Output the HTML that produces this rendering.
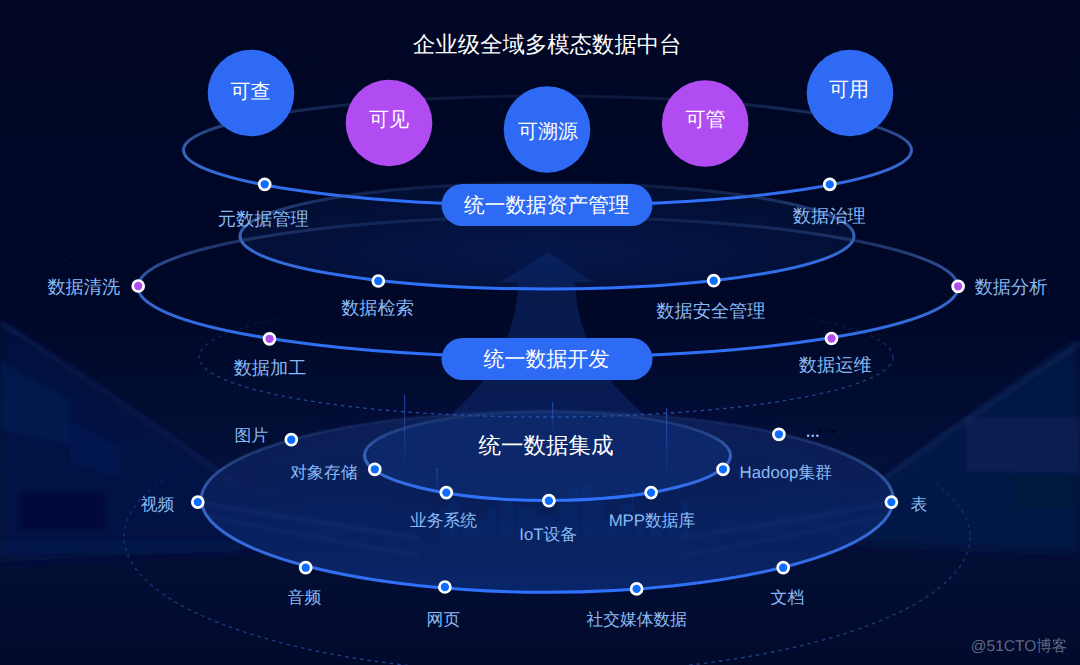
<!DOCTYPE html>
<html><head><meta charset="utf-8">
<style>
html,body{margin:0;padding:0;width:1080px;height:665px;overflow:hidden;background:#000624;}
svg{display:block;font-family:"Liberation Sans",sans-serif;text-rendering:geometricPrecision;}
.lb{fill:#89baf5;font-size:18.2px;}
.wt{fill:#ffffff;}
</style></head><body>
<svg width="1080" height="665" viewBox="0 0 1080 665">
<defs>
  <linearGradient id="bgv" x1="0" y1="0" x2="0" y2="1">
    <stop offset="0" stop-color="#000624"/>
    <stop offset="0.45" stop-color="#000727"/>
    <stop offset="0.7" stop-color="#031038"/>
    <stop offset="0.85" stop-color="#030e34"/>
    <stop offset="1" stop-color="#020a2c"/>
  </linearGradient>
  <linearGradient id="s1" gradientUnits="userSpaceOnUse" x1="0" y1="96" x2="0" y2="204">
    <stop offset="0" stop-color="#35548a" stop-opacity="0.22"/>
    <stop offset="0.5" stop-color="#3b68c4" stop-opacity="0.95"/>
    <stop offset="1" stop-color="#2f72ff"/>
  </linearGradient>
  <linearGradient id="s2" gradientUnits="userSpaceOnUse" x1="0" y1="183" x2="0" y2="289">
    <stop offset="0" stop-color="#35548a" stop-opacity="0.22"/>
    <stop offset="0.5" stop-color="#3b68c4" stop-opacity="0.95"/>
    <stop offset="1" stop-color="#2f72ff"/>
  </linearGradient>
  <linearGradient id="s3" gradientUnits="userSpaceOnUse" x1="0" y1="214" x2="0" y2="358">
    <stop offset="0" stop-color="#35548a" stop-opacity="0.22"/>
    <stop offset="0.5" stop-color="#3b68c4" stop-opacity="0.95"/>
    <stop offset="1" stop-color="#2f72ff"/>
  </linearGradient>
  <linearGradient id="s4" gradientUnits="userSpaceOnUse" x1="0" y1="411" x2="0" y2="593">
    <stop offset="0" stop-color="#35548a" stop-opacity="0.08"/>
    <stop offset="0.5" stop-color="#3b68c4" stop-opacity="0.95"/>
    <stop offset="1" stop-color="#2f72ff"/>
  </linearGradient>
  <linearGradient id="s5" gradientUnits="userSpaceOnUse" x1="0" y1="413" x2="0" y2="500">
    <stop offset="0" stop-color="#35548a" stop-opacity="0.22"/>
    <stop offset="0.5" stop-color="#3b68c4" stop-opacity="0.95"/>
    <stop offset="1" stop-color="#2f72ff"/>
  </linearGradient>
  <radialGradient id="g2" cx="0.5" cy="0.65" r="0.55">
    <stop offset="0" stop-color="#072060" stop-opacity="0.62"/>
    <stop offset="1" stop-color="#041540" stop-opacity="0.55"/>
  </radialGradient>
  <radialGradient id="g4" cx="0.5" cy="0.5" r="0.5">
    <stop offset="0" stop-color="#0d2f78" stop-opacity="0.6"/>
    <stop offset="1" stop-color="#0a2260" stop-opacity="0.3"/>
  </radialGradient>
  <linearGradient id="d3" gradientUnits="userSpaceOnUse" x1="0" y1="297" x2="0" y2="415">
    <stop offset="0.1" stop-color="#2a4f9a" stop-opacity="0"/>
    <stop offset="0.45" stop-color="#2a4f9a" stop-opacity="0.55"/>
    <stop offset="1" stop-color="#2a5cc0" stop-opacity="0.8"/>
  </linearGradient>
  <linearGradient id="d6" gradientUnits="userSpaceOnUse" x1="0" y1="401" x2="0" y2="673">
    <stop offset="0.22" stop-color="#2a4f9a" stop-opacity="0"/>
    <stop offset="0.36" stop-color="#2a4f9a" stop-opacity="0.4"/>
    <stop offset="1" stop-color="#2a5cc0" stop-opacity="0.7"/>
  </linearGradient>
  <filter id="blur8" x="-20%" y="-20%" width="140%" height="140%"><feGaussianBlur stdDeviation="8"/></filter>
  <filter id="blur20" x="-20%" y="-50%" width="140%" height="200%"><feGaussianBlur stdDeviation="20"/></filter>
  <filter id="blur2" x="-20%" y="-20%" width="140%" height="140%"><feGaussianBlur stdDeviation="2"/></filter>
  <filter id="blur6" x="-20%" y="-20%" width="140%" height="140%"><feGaussianBlur stdDeviation="6"/></filter>
  <linearGradient id="g4v" x1="0" y1="0" x2="0" y2="1">
    <stop offset="0" stop-color="#13286a" stop-opacity="0.6"/>
    <stop offset="0.5" stop-color="#0c2466" stop-opacity="0.65"/>
    <stop offset="1" stop-color="#0a2a74" stop-opacity="0.85"/>
  </linearGradient>
  <linearGradient id="beam" x1="0" y1="0" x2="0" y2="1">
    <stop offset="0" stop-color="#2f6ae8" stop-opacity="0.6"/>
    <stop offset="1" stop-color="#3a7cff" stop-opacity="0"/>
  </linearGradient>
  <filter id="blur1" x="-10%" y="-10%" width="120%" height="120%"><feGaussianBlur stdDeviation="0.8"/></filter>
</defs>

<rect x="0" y="0" width="1080" height="665" fill="url(#bgv)"/>

<!-- background structures -->
<g filter="url(#blur6)">
  <path d="M0,305 L0,318 Q90,385 240,488 L430,500 L430,522 L240,550 L0,562 Z" fill="#0a1a4e" fill-opacity="0.55"/>
  <path d="M1080,338 Q990,400 880,482 L680,502 L680,522 L880,545 L1080,552 Z" fill="#0a1c52" fill-opacity="0.62"/>
</g>
<g filter="url(#blur2)">
  <polygon points="0,360 70,400 70,445 0,430" fill="#102868" fill-opacity="0.3"/>
  <polygon points="70,420 120,448 120,478 70,462" fill="#102868" fill-opacity="0.25"/>
  <rect x="20" y="493" width="85" height="37" fill="#040c34" fill-opacity="0.5"/>
  <rect x="0" y="540" width="240" height="14" fill="#10245a" fill-opacity="0.25"/>
  <rect x="966" y="417" width="114" height="55" fill="#12306e" fill-opacity="0.32"/>
  <rect x="1012" y="474" width="68" height="34" fill="#050f38" fill-opacity="0.45"/>
</g>
<g filter="url(#blur2)" fill="none">
  <path d="M0,322 Q100,385 240,487" stroke="#34569e" stroke-opacity="0.35" stroke-width="2.5"/>
  <path d="M1080,343 Q990,402 880,482" stroke="#34569e" stroke-opacity="0.4" stroke-width="2.5"/>
</g>
<g fill="none" stroke="#3a5a9a" stroke-width="1" stroke-opacity="0.12">
  <path d="M270,0 L395,160"/>
  <path d="M985,0 L880,110"/>
  <path d="M0,225 L120,290"/>
</g>
<g filter="url(#blur20)">
  <ellipse cx="547" cy="490" rx="300" ry="80" fill="#0a2266" fill-opacity="0.2"/>
</g>
<!-- glow fills -->
<ellipse cx="547" cy="236" rx="307" ry="53" fill="url(#g2)"/>
<!-- arrow -->
<path d="M549,252 L593,282 L575,282 Q578,360 645,415 L450,415 Q516,360 518,282 L500,282 Z" fill="#0c2a6c" fill-opacity="0.55"/>
<path d="M201.29999999999995,499.3 A346,88.5 0 0 1 893.3,499.3 A346,93 0 0 1 201.29999999999995,499.3 Z" fill="url(#g4v)"/>
<path d="M364.5,455.5 A183,44 0 0 1 730.5,455.5 A183,45 0 0 1 364.5,455.5 Z" fill="#0d2e78" fill-opacity="0.6"/>

<!-- dashed ellipses -->
<ellipse cx="546" cy="357" rx="347" ry="60" fill="none" stroke="url(#d3)" stroke-width="1.3" stroke-dasharray="3.5 4"/>
<ellipse cx="547" cy="537" rx="423" ry="136" fill="none" stroke="url(#d6)" stroke-width="1.3" stroke-dasharray="3.5 4"/>

<!-- skyline -->
<g fill="#123a8a" fill-opacity="0.22" filter="url(#blur1)"><rect x="440" y="510" width="8" height="28"/><rect x="449" y="499" width="10" height="39"/><rect x="462" y="526" width="14" height="12"/><rect x="476" y="520" width="12" height="18"/><rect x="489" y="506" width="8" height="32"/><rect x="500" y="502" width="14" height="36"/><rect x="517" y="508" width="12" height="30"/><rect x="530" y="508" width="8" height="30"/><rect x="539" y="516" width="14" height="22"/><rect x="553" y="523" width="6" height="15"/><rect x="559" y="504" width="10" height="34"/><rect x="569" y="486" width="10" height="52"/><rect x="582" y="484" width="12" height="54"/><rect x="595" y="497" width="10" height="41"/><rect x="606" y="522" width="12" height="16"/><rect x="620" y="504" width="12" height="34"/><rect x="634" y="512" width="12" height="26"/><rect x="649" y="517" width="14" height="21"/><rect x="666" y="521" width="14" height="17"/><rect x="682" y="501" width="6" height="37"/></g>
<!-- road streaks -->
<g filter="url(#blur2)" fill="none">
  <path d="M202,503 Q300,520 420,538" stroke="#3a64b8" stroke-opacity="0.28" stroke-width="2"/>
  <path d="M205,515 Q320,540 420,555" stroke="#3a64b8" stroke-opacity="0.2" stroke-width="2"/>
  <path d="M888,503 Q800,520 680,538" stroke="#3a64b8" stroke-opacity="0.25" stroke-width="2"/>
  <path d="M885,515 Q780,540 680,555" stroke="#3a64b8" stroke-opacity="0.18" stroke-width="2"/>
</g>
<!-- beams -->
<g>
  <rect x="404" y="395" width="1.2" height="72" fill="url(#beam)"/>
  <rect x="552" y="402" width="1.2" height="30" fill="url(#beam)"/>
  <rect x="666" y="408" width="1.2" height="68" fill="url(#beam)"/>
  <rect x="436.5" y="468" width="1.2" height="20" fill="url(#beam)"/>
  <rect x="632" y="490" width="1" height="22" fill="url(#beam)" opacity="0.5"/>
</g>
<!-- ellipses -->
<path d="M183.5,150 A364,54 0 0 1 911.5,150 A364,55.5 0 0 1 183.5,150 Z" fill="none" stroke="url(#s1)" stroke-width="3"/>
<ellipse cx="547" cy="236" rx="307" ry="53" fill="none" stroke="url(#s2)" stroke-width="3"/>
<ellipse cx="548" cy="287" rx="410" ry="70" fill="none" stroke="url(#s3)" stroke-width="3"/>
<path d="M201.29999999999995,499.3 A346,88.5 0 0 1 893.3,499.3 A346,93 0 0 1 201.29999999999995,499.3 Z" fill="none" stroke="url(#s4)" stroke-width="3"/>
<path d="M364.5,455.5 A183,44 0 0 1 730.5,455.5 A183,45 0 0 1 364.5,455.5 Z" fill="none" stroke="url(#s5)" stroke-width="3"/>

<!-- top circles -->
<circle cx="251" cy="93" r="43.3" fill="#2e6af4"/>
<circle cx="389" cy="123" r="43.3" fill="#b04cf2"/>
<circle cx="547" cy="129.5" r="43.3" fill="#2e6af4"/>
<circle cx="705.2" cy="123.5" r="43.3" fill="#b04cf2"/>
<circle cx="850" cy="93" r="43.3" fill="#2e6af4"/>
<g class="wt" font-size="20" text-anchor="middle" dominant-baseline="central">
  <text x="250.5" y="91.7">可查</text>
  <text x="389" y="120.2">可见</text>
  <text x="548" y="131.8">可溯源</text>
  <text x="705.5" y="120.4">可管</text>
  <text x="849" y="90.2">可用</text>
</g>

<text x="547.3" y="44.6" class="wt" font-size="22.4" text-anchor="middle" dominant-baseline="central">企业级全域多模态数据中台</text>

<!-- pills -->
<rect x="441.5" y="184" width="211" height="42" rx="21" fill="#2e6bf4"/>
<rect x="441.5" y="338" width="211" height="42" rx="21" fill="#2e6bf4"/>
<g class="wt" font-size="20.5" text-anchor="middle" dominant-baseline="central">
  <text x="546.8" y="205" font-size="20.7">统一数据资产管理</text>
  <text x="546.5" y="359.2" font-size="21">统一数据开发</text>
</g>
<text x="546" y="445.9" class="wt" font-size="22.5" text-anchor="middle" dominant-baseline="central">统一数据集成</text>

<!-- dots -->
<g stroke="#ffffff" stroke-width="2.7">
  <g fill="#0b6cff">
    <circle cx="264.7" cy="184.3" r="5.5"/>
    <circle cx="829.8" cy="184.4" r="5.5"/>
    <circle cx="378.3" cy="281" r="5.5"/>
    <circle cx="713.7" cy="280.7" r="5.5"/>
    <circle cx="197.8" cy="502.1" r="5.5"/>
    <circle cx="291.3" cy="439.7" r="5.5"/>
    <circle cx="305.7" cy="567.7" r="5.5"/>
    <circle cx="444.9" cy="587" r="5.5"/>
    <circle cx="636.6" cy="588.9" r="5.5"/>
    <circle cx="783.2" cy="567.7" r="5.5"/>
    <circle cx="891.4" cy="502.1" r="5.5"/>
    <circle cx="778.9" cy="434.3" r="5.5"/>
    <circle cx="374.8" cy="469.3" r="5.5"/>
    <circle cx="446.3" cy="492.6" r="5.5"/>
    <circle cx="548.9" cy="500.7" r="5.5"/>
    <circle cx="651.1" cy="492.6" r="5.5"/>
    <circle cx="723" cy="469.3" r="5.5"/>
  </g>
  <g fill="#b04cf2">
    <circle cx="138.2" cy="286" r="5.5"/>
    <circle cx="958.1" cy="286.3" r="5.5"/>
    <circle cx="269.5" cy="338.8" r="5.5"/>
    <circle cx="831.5" cy="338.5" r="5.5"/>
  </g>
</g>

<g fill="#8fc0ff"><circle cx="808.1" cy="435.8" r="1.3"/><circle cx="812.8" cy="435.8" r="1.3"/><circle cx="817.4" cy="435.8" r="1.3"/></g>
<g fill="#000000"><circle cx="820.2" cy="431.7" r="1.3"/><circle cx="826.9" cy="431.7" r="1.3"/><circle cx="833.3" cy="431.7" r="1.3"/></g>
<!-- labels -->
<g class="lb" text-anchor="middle" dominant-baseline="central">
  <text x="263.3" y="218.5">元数据管理</text>
  <text x="829.2" y="216">数据治理</text>
  <text x="83.8" y="287.4">数据清洗</text>
  <text x="377.5" y="308.3">数据检索</text>
  <text x="710.9" y="310.6">数据安全管理</text>
  <text x="1011" y="287.4">数据分析</text>
  <text x="270" y="367.6">数据加工</text>
  <text x="835.2" y="365.2">数据运维</text>
</g>
<g class="lb" font-size="16.8" text-anchor="middle" dominant-baseline="central" style="font-size:16.8px">
  <text x="251.4" y="435.4">图片</text>
  <text x="323.9" y="472">对象存储</text>
  <text x="157.6" y="504.6">视频</text>
  <text x="304.4" y="597.3">音频</text>
  <text x="443.4" y="619">网页</text>
  <text x="636.8" y="619">社交媒体数据</text>
  <text x="787.4" y="597.7">文档</text>
  <text x="919" y="504.6">表</text>
  <text x="785.8" y="472">Hadoop集群</text>
  <text x="443.5" y="520.4">业务系统</text>
  <text x="548.2" y="534">IoT设备</text>
  <text x="652" y="520.4">MPP数据库</text>
</g>
<text x="1019" y="646.5" fill="#8a93a8" fill-opacity="0.7" font-size="15.5" text-anchor="middle" dominant-baseline="central">@51CTO博客</text>
</svg>
</body></html>
